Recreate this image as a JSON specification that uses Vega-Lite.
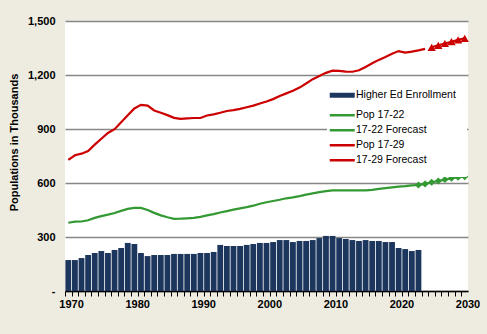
{
  "$schema": "https://vega.github.io/schema/vega-lite/v6.json",
  "width": 403,
  "height": 270,
  "autosize": {"type": "none"},
  "padding": {"left": 65, "top": 21, "right": 19, "bottom": 43},
  "background": "#EEEBE0",
  "view": {"fill": "white", "stroke": null},
  "config": {
    "font": "Liberation Sans",
    "legend": {
      "orient": "none",
      "legendX": 262,
      "legendY": 59,
      "padding": 10,
      "fillColor": "white",
      "strokeColor": "white",
      "symbolType": "stroke",
      "symbolSize": 625,
      "symbolStrokeWidth": 2.5,
      "labelFont": "Liberation Sans",
      "labelFontSize": 10.5,
      "labelColor": "#000000",
      "labelOffset": 8.5,
      "rowPadding": 4,
      "title": null
    }
  },
  "data": {
    "values": [
      {"year": 1970, "series": "Higher Ed Enrollment", "value": 172},
      {"year": 1971, "series": "Higher Ed Enrollment", "value": 172},
      {"year": 1972, "series": "Higher Ed Enrollment", "value": 183},
      {"year": 1973, "series": "Higher Ed Enrollment", "value": 200},
      {"year": 1974, "series": "Higher Ed Enrollment", "value": 211},
      {"year": 1975, "series": "Higher Ed Enrollment", "value": 222},
      {"year": 1976, "series": "Higher Ed Enrollment", "value": 211},
      {"year": 1977, "series": "Higher Ed Enrollment", "value": 228},
      {"year": 1978, "series": "Higher Ed Enrollment", "value": 239},
      {"year": 1979, "series": "Higher Ed Enrollment", "value": 267},
      {"year": 1980, "series": "Higher Ed Enrollment", "value": 261},
      {"year": 1981, "series": "Higher Ed Enrollment", "value": 211},
      {"year": 1982, "series": "Higher Ed Enrollment", "value": 194},
      {"year": 1983, "series": "Higher Ed Enrollment", "value": 200},
      {"year": 1984, "series": "Higher Ed Enrollment", "value": 200},
      {"year": 1985, "series": "Higher Ed Enrollment", "value": 200},
      {"year": 1986, "series": "Higher Ed Enrollment", "value": 206},
      {"year": 1987, "series": "Higher Ed Enrollment", "value": 206},
      {"year": 1988, "series": "Higher Ed Enrollment", "value": 206},
      {"year": 1989, "series": "Higher Ed Enrollment", "value": 206},
      {"year": 1990, "series": "Higher Ed Enrollment", "value": 211},
      {"year": 1991, "series": "Higher Ed Enrollment", "value": 211},
      {"year": 1992, "series": "Higher Ed Enrollment", "value": 217},
      {"year": 1993, "series": "Higher Ed Enrollment", "value": 256},
      {"year": 1994, "series": "Higher Ed Enrollment", "value": 250},
      {"year": 1995, "series": "Higher Ed Enrollment", "value": 250},
      {"year": 1996, "series": "Higher Ed Enrollment", "value": 250},
      {"year": 1997, "series": "Higher Ed Enrollment", "value": 256},
      {"year": 1998, "series": "Higher Ed Enrollment", "value": 261},
      {"year": 1999, "series": "Higher Ed Enrollment", "value": 267},
      {"year": 2000, "series": "Higher Ed Enrollment", "value": 267},
      {"year": 2001, "series": "Higher Ed Enrollment", "value": 272},
      {"year": 2002, "series": "Higher Ed Enrollment", "value": 283},
      {"year": 2003, "series": "Higher Ed Enrollment", "value": 283},
      {"year": 2004, "series": "Higher Ed Enrollment", "value": 272},
      {"year": 2005, "series": "Higher Ed Enrollment", "value": 278},
      {"year": 2006, "series": "Higher Ed Enrollment", "value": 278},
      {"year": 2007, "series": "Higher Ed Enrollment", "value": 283},
      {"year": 2008, "series": "Higher Ed Enrollment", "value": 294},
      {"year": 2009, "series": "Higher Ed Enrollment", "value": 306},
      {"year": 2010, "series": "Higher Ed Enrollment", "value": 306},
      {"year": 2011, "series": "Higher Ed Enrollment", "value": 294},
      {"year": 2012, "series": "Higher Ed Enrollment", "value": 289},
      {"year": 2013, "series": "Higher Ed Enrollment", "value": 283},
      {"year": 2014, "series": "Higher Ed Enrollment", "value": 278},
      {"year": 2015, "series": "Higher Ed Enrollment", "value": 283},
      {"year": 2016, "series": "Higher Ed Enrollment", "value": 278},
      {"year": 2017, "series": "Higher Ed Enrollment", "value": 278},
      {"year": 2018, "series": "Higher Ed Enrollment", "value": 272},
      {"year": 2019, "series": "Higher Ed Enrollment", "value": 272},
      {"year": 2020, "series": "Higher Ed Enrollment", "value": 239},
      {"year": 2021, "series": "Higher Ed Enrollment", "value": 233},
      {"year": 2022, "series": "Higher Ed Enrollment", "value": 222},
      {"year": 2023, "series": "Higher Ed Enrollment", "value": 228},

      {"year": 1970, "series": "Pop 17-22", "value": 379},
      {"year": 1971, "series": "Pop 17-22", "value": 385},
      {"year": 1972, "series": "Pop 17-22", "value": 386},
      {"year": 1973, "series": "Pop 17-22", "value": 393},
      {"year": 1974, "series": "Pop 17-22", "value": 406},
      {"year": 1975, "series": "Pop 17-22", "value": 416},
      {"year": 1976, "series": "Pop 17-22", "value": 424},
      {"year": 1977, "series": "Pop 17-22", "value": 433},
      {"year": 1978, "series": "Pop 17-22", "value": 445},
      {"year": 1979, "series": "Pop 17-22", "value": 456},
      {"year": 1980, "series": "Pop 17-22", "value": 462},
      {"year": 1981, "series": "Pop 17-22", "value": 462},
      {"year": 1982, "series": "Pop 17-22", "value": 450},
      {"year": 1983, "series": "Pop 17-22", "value": 434},
      {"year": 1984, "series": "Pop 17-22", "value": 420},
      {"year": 1985, "series": "Pop 17-22", "value": 410},
      {"year": 1986, "series": "Pop 17-22", "value": 401},
      {"year": 1987, "series": "Pop 17-22", "value": 402},
      {"year": 1988, "series": "Pop 17-22", "value": 404},
      {"year": 1989, "series": "Pop 17-22", "value": 406},
      {"year": 1990, "series": "Pop 17-22", "value": 412},
      {"year": 1991, "series": "Pop 17-22", "value": 420},
      {"year": 1992, "series": "Pop 17-22", "value": 427},
      {"year": 1993, "series": "Pop 17-22", "value": 436},
      {"year": 1994, "series": "Pop 17-22", "value": 444},
      {"year": 1995, "series": "Pop 17-22", "value": 452},
      {"year": 1996, "series": "Pop 17-22", "value": 459},
      {"year": 1997, "series": "Pop 17-22", "value": 466},
      {"year": 1998, "series": "Pop 17-22", "value": 474},
      {"year": 1999, "series": "Pop 17-22", "value": 485},
      {"year": 2000, "series": "Pop 17-22", "value": 493},
      {"year": 2001, "series": "Pop 17-22", "value": 500},
      {"year": 2002, "series": "Pop 17-22", "value": 507},
      {"year": 2003, "series": "Pop 17-22", "value": 515},
      {"year": 2004, "series": "Pop 17-22", "value": 520},
      {"year": 2005, "series": "Pop 17-22", "value": 527},
      {"year": 2006, "series": "Pop 17-22", "value": 535},
      {"year": 2007, "series": "Pop 17-22", "value": 542},
      {"year": 2008, "series": "Pop 17-22", "value": 549},
      {"year": 2009, "series": "Pop 17-22", "value": 555},
      {"year": 2010, "series": "Pop 17-22", "value": 559},
      {"year": 2011, "series": "Pop 17-22", "value": 559},
      {"year": 2012, "series": "Pop 17-22", "value": 559},
      {"year": 2013, "series": "Pop 17-22", "value": 559},
      {"year": 2014, "series": "Pop 17-22", "value": 559},
      {"year": 2015, "series": "Pop 17-22", "value": 559},
      {"year": 2016, "series": "Pop 17-22", "value": 562},
      {"year": 2017, "series": "Pop 17-22", "value": 567},
      {"year": 2018, "series": "Pop 17-22", "value": 572},
      {"year": 2019, "series": "Pop 17-22", "value": 576},
      {"year": 2020, "series": "Pop 17-22", "value": 580},
      {"year": 2021, "series": "Pop 17-22", "value": 583},
      {"year": 2022, "series": "Pop 17-22", "value": 587},
      {"year": 2023, "series": "Pop 17-22", "value": 589},

      {"year": 2023, "series": "17-22 Forecast", "value": 589},
      {"year": 2024, "series": "17-22 Forecast", "value": 595},
      {"year": 2025, "series": "17-22 Forecast", "value": 604},
      {"year": 2026, "series": "17-22 Forecast", "value": 611},
      {"year": 2027, "series": "17-22 Forecast", "value": 619},
      {"year": 2028, "series": "17-22 Forecast", "value": 626},
      {"year": 2029, "series": "17-22 Forecast", "value": 632},
      {"year": 2030, "series": "17-22 Forecast", "value": 635},

      {"year": 1970, "series": "Pop 17-29", "value": 728},
      {"year": 1971, "series": "Pop 17-29", "value": 754},
      {"year": 1972, "series": "Pop 17-29", "value": 763},
      {"year": 1973, "series": "Pop 17-29", "value": 777},
      {"year": 1974, "series": "Pop 17-29", "value": 813},
      {"year": 1975, "series": "Pop 17-29", "value": 846},
      {"year": 1976, "series": "Pop 17-29", "value": 878},
      {"year": 1977, "series": "Pop 17-29", "value": 899},
      {"year": 1978, "series": "Pop 17-29", "value": 937},
      {"year": 1979, "series": "Pop 17-29", "value": 976},
      {"year": 1980, "series": "Pop 17-29", "value": 1014},
      {"year": 1981, "series": "Pop 17-29", "value": 1034},
      {"year": 1982, "series": "Pop 17-29", "value": 1030},
      {"year": 1983, "series": "Pop 17-29", "value": 1003},
      {"year": 1984, "series": "Pop 17-29", "value": 990},
      {"year": 1985, "series": "Pop 17-29", "value": 977},
      {"year": 1986, "series": "Pop 17-29", "value": 962},
      {"year": 1987, "series": "Pop 17-29", "value": 956},
      {"year": 1988, "series": "Pop 17-29", "value": 959},
      {"year": 1989, "series": "Pop 17-29", "value": 961},
      {"year": 1990, "series": "Pop 17-29", "value": 961},
      {"year": 1991, "series": "Pop 17-29", "value": 975},
      {"year": 1992, "series": "Pop 17-29", "value": 981},
      {"year": 1993, "series": "Pop 17-29", "value": 990},
      {"year": 1994, "series": "Pop 17-29", "value": 1000},
      {"year": 1995, "series": "Pop 17-29", "value": 1005},
      {"year": 1996, "series": "Pop 17-29", "value": 1012},
      {"year": 1997, "series": "Pop 17-29", "value": 1021},
      {"year": 1998, "series": "Pop 17-29", "value": 1030},
      {"year": 1999, "series": "Pop 17-29", "value": 1042},
      {"year": 2000, "series": "Pop 17-29", "value": 1053},
      {"year": 2001, "series": "Pop 17-29", "value": 1066},
      {"year": 2002, "series": "Pop 17-29", "value": 1083},
      {"year": 2003, "series": "Pop 17-29", "value": 1098},
      {"year": 2004, "series": "Pop 17-29", "value": 1112},
      {"year": 2005, "series": "Pop 17-29", "value": 1130},
      {"year": 2006, "series": "Pop 17-29", "value": 1153},
      {"year": 2007, "series": "Pop 17-29", "value": 1177},
      {"year": 2008, "series": "Pop 17-29", "value": 1195},
      {"year": 2009, "series": "Pop 17-29", "value": 1212},
      {"year": 2010, "series": "Pop 17-29", "value": 1224},
      {"year": 2011, "series": "Pop 17-29", "value": 1223},
      {"year": 2012, "series": "Pop 17-29", "value": 1219},
      {"year": 2013, "series": "Pop 17-29", "value": 1218},
      {"year": 2014, "series": "Pop 17-29", "value": 1226},
      {"year": 2015, "series": "Pop 17-29", "value": 1245},
      {"year": 2016, "series": "Pop 17-29", "value": 1265},
      {"year": 2017, "series": "Pop 17-29", "value": 1284},
      {"year": 2018, "series": "Pop 17-29", "value": 1300},
      {"year": 2019, "series": "Pop 17-29", "value": 1318},
      {"year": 2020, "series": "Pop 17-29", "value": 1333},
      {"year": 2021, "series": "Pop 17-29", "value": 1324},
      {"year": 2022, "series": "Pop 17-29", "value": 1330},
      {"year": 2023, "series": "Pop 17-29", "value": 1337},
      {"year": 2024, "series": "Pop 17-29", "value": 1345},

      {"year": 2025, "series": "17-29 Forecast", "value": 1354},
      {"year": 2026, "series": "17-29 Forecast", "value": 1365},
      {"year": 2027, "series": "17-29 Forecast", "value": 1375},
      {"year": 2028, "series": "17-29 Forecast", "value": 1385},
      {"year": 2029, "series": "17-29 Forecast", "value": 1395},
      {"year": 2030, "series": "17-29 Forecast", "value": 1404}
    ]
  },
  "encoding": {
    "x": {
      "field": "year",
      "type": "ordinal",
      "scale": {
        "domain": [1970,1971,1972,1973,1974,1975,1976,1977,1978,1979,1980,1981,1982,1983,1984,1985,1986,1987,1988,1989,1990,1991,1992,1993,1994,1995,1996,1997,1998,1999,2000,2001,2002,2003,2004,2005,2006,2007,2008,2009,2010,2011,2012,2013,2014,2015,2016,2017,2018,2019,2020,2021,2022,2023,2024,2025,2026,2027,2028,2029,2030],
        "paddingInner": 0.12,
        "paddingOuter": 0.06
      },
      "axis": {
        "title": null,
        "bandPosition": 0,
        "labelOffset": 3.3,
        "labelExpr": "datum.value % 10 === 0 ? datum.label : ''",
        "labelAngle": 0,
        "labelOverlap": false,
        "labelBound": false,
        "labelFont": "Liberation Sans",
        "labelFontSize": 11,
        "labelFontWeight": "bold",
        "labelColor": "#000000",
        "labelPadding": 2,
        "domainColor": "#000000",
        "domainWidth": 1.3,
        "tickColor": "#000000",
        "tickSize": 5,
        "tickWidth": 1,
        "grid": false
      }
    },
    "y": {
      "field": "value",
      "type": "quantitative",
      "scale": {"domain": [0, 1500], "nice": false},
      "axis": {
        "values": [0, 300, 600, 900, 1200, 1500],
        "labelExpr": "datum.value === 0 ? '-\u00a0\u00a0' : format(datum.value, ',')",
        "title": "Populations in Thousands",
        "titleFont": "Liberation Sans",
        "titleFontSize": 11,
        "titleFontWeight": "bold",
        "titleColor": "#000000",
        "titlePadding": 8,
        "titleY": 121,
        "grid": true,
        "gridColor": "#878787",
        "gridWidth": 1.3,
        "domain": false,
        "ticks": false,
        "labelPadding": 10,
        "labelFont": "Liberation Sans",
        "labelFontSize": 11,
        "labelFontWeight": "bold",
        "labelColor": "#000000"
      }
    },
    "color": {
      "field": "series",
      "type": "nominal",
      "scale": {
        "domain": ["Higher Ed Enrollment", "Pop 17-22", "17-22 Forecast", "Pop 17-29", "17-29 Forecast"],
        "range": ["#1D365E", "#339933", "#339933", "#CC0000", "#CC0000"]
      },
      "legend": {
        "encode": {
          "symbols": {
            "update": {
              "stroke": {"scale": "color", "field": "value"},
              "fill": {"value": "transparent"},
              "strokeWidth": {"signal": "datum.value === 'Higher Ed Enrollment' ? 5 : 2.5"}
            }
          }
        }
      }
    }
  },
  "layer": [
    {
      "transform": [{"filter": "datum.series === 'Higher Ed Enrollment'"}],
      "mark": {"type": "bar"}
    },
    {
      "transform": [{"filter": "datum.series !== 'Higher Ed Enrollment'"}],
      "mark": {"type": "line", "strokeWidth": 2.2}
    },
    {
      "transform": [{"filter": "datum.series === '17-22 Forecast' || datum.series === '17-29 Forecast'"}],
      "mark": {"type": "point", "filled": true, "opacity": 1},
      "encoding": {
        "shape": {
          "field": "series",
          "type": "nominal",
          "scale": {"domain": ["17-22 Forecast", "17-29 Forecast"], "range": ["diamond", "triangle-up"]},
          "legend": null
        },
        "size": {
          "field": "series",
          "type": "nominal",
          "scale": {"domain": ["17-22 Forecast", "17-29 Forecast"], "range": [50, 70]},
          "legend": null
        }
      }
    }
  ]
}
